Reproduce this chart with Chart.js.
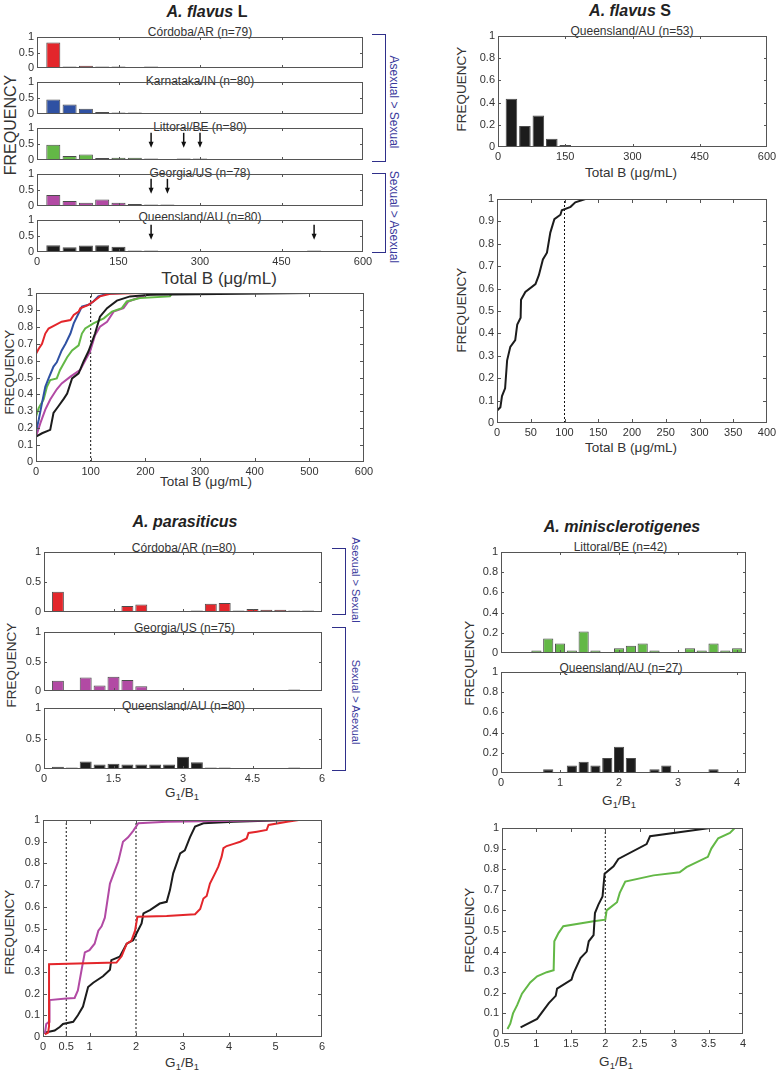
<!DOCTYPE html>
<html><head><meta charset="utf-8">
<script src="https://cdn.jsdelivr.net/npm/chart.js@4"></script>
<style>
body{margin:0;background:#fff;width:781px;height:1075px;position:relative;overflow:hidden;font-family:'Liberation Sans',Arial,Helvetica,sans-serif;color:#222}
canvas{position:absolute}
.t{position:absolute;white-space:nowrap;transform:translate(-50%,-50%);line-height:1}
.v{transform:translate(-50%,-50%) rotate(-90deg)}
.vr{transform:translate(-50%,-50%) rotate(90deg);color:#3a3a9c}
.ttl{font-size:16px;font-weight:bold}
.sub{font-size:12px;color:#333}
.ax{font-size:13.5px;color:#333}
.br{position:absolute;border:1.5px solid #2f2f8a;border-left:none}
sub{font-size:70%;vertical-align:-0.25em;line-height:0}
</style></head><body>

<!-- titles & labels -->
<div class="t ttl" style="left:207px;top:12px"><i>A. flavus</i> L</div>
<div class="t sub" style="left:200px;top:32px">Córdoba/AR (n=79)</div>
<div class="t sub" style="left:200px;top:81px">Karnataka/IN (n=80)</div>
<div class="t sub" style="left:200px;top:127px">Littoral/BE (n=80)</div>
<div class="t sub" style="left:200px;top:173px">Georgia/US (n=78)</div>
<div class="t sub" style="left:200px;top:217px">Queensland/AU (n=80)</div>
<div class="t v" style="left:10.5px;top:125px;font-size:16px;color:#333">FREQUENCY</div>
<div class="t" style="left:219px;top:278px;font-size:17px;color:#333">Total B (μg/mL)</div>
<div class="br" style="left:372px;top:34px;width:13px;height:126px"></div>
<div class="br" style="left:372px;top:173px;width:13px;height:78px"></div>
<div class="t vr" style="left:394px;top:102px;font-size:12px">Asexual &gt; Sexual</div>
<div class="t vr" style="left:394px;top:217px;font-size:12px">Sexual &gt; Asexual</div>
<div class="t v ax" style="left:9.5px;top:372px">FREQUENCY</div>
<div class="t ax" style="left:206px;top:482px">Total B (μg/mL)</div>

<div class="t ttl" style="left:630px;top:11px"><i>A. flavus</i> S</div>
<div class="t sub" style="left:632px;top:31px">Queensland/AU (n=53)</div>
<div class="t v ax" style="left:462px;top:89px">FREQUENCY</div>
<div class="t ax" style="left:631px;top:173px">Total B (μg/mL)</div>
<div class="t v ax" style="left:462px;top:310px">FREQUENCY</div>
<div class="t ax" style="left:631px;top:448px">Total B (μg/mL)</div>

<div class="t ttl" style="left:185px;top:522px"><i>A. parasiticus</i></div>
<div class="t sub" style="left:184px;top:547.5px">Córdoba/AR (n=80)</div>
<div class="t sub" style="left:184.5px;top:627.5px">Georgia/US (n=75)</div>
<div class="t sub" style="left:183.5px;top:705.5px">Queensland/AU (n=80)</div>
<div class="t v ax" style="left:11.5px;top:665px">FREQUENCY</div>
<div class="t ax" style="left:182px;top:793px">G<sub>1</sub>/B<sub>1</sub></div>
<div class="br" style="left:332px;top:548px;width:13px;height:65px"></div>
<div class="br" style="left:332px;top:627px;width:13px;height:142px"></div>
<div class="t vr" style="left:355px;top:580px;font-size:11px">Asexual &gt; Sexual</div>
<div class="t vr" style="left:355px;top:702px;font-size:11px">Sexual &gt; Asexual</div>
<div class="t v ax" style="left:10px;top:932px">FREQUENCY</div>
<div class="t ax" style="left:182px;top:1063px">G<sub>1</sub>/B<sub>1</sub></div>

<div class="t ttl" style="left:622px;top:527px"><i>A. minisclerotigenes</i></div>
<div class="t sub" style="left:620.5px;top:547px">Littoral/BE (n=42)</div>
<div class="t sub" style="left:621px;top:667.5px">Queensland/AU (n=27)</div>
<div class="t v ax" style="left:470px;top:663px">FREQUENCY</div>
<div class="t ax" style="left:619px;top:801px">G<sub>1</sub>/B<sub>1</sub></div>
<div class="t v ax" style="left:470px;top:930px">FREQUENCY</div>
<div class="t ax" style="left:616px;top:1062px">G<sub>1</sub>/B<sub>1</sub></div>

<script>
// ---------- DATA ----------
// A. flavus L / S histograms (Total B, µg/mL) — bin centres and frequencies
const flavusBins = [30,60,90,120,150,180,210,240,270,300,330,360,390,420,450,480,510,540,570];
const lCordoba   = [0.82,0.025,0.076,0.051,0.013,0,0.013,0,0,0,0,0,0,0,0,0,0,0,0];
const lKarnataka = [0.45,0.30,0.163,0.063,0.0125,0.0125,0,0,0,0,0,0,0,0,0,0,0,0,0];
const lLittoral  = [0.475,0.125,0.175,0.063,0.07,0.07,0.0125,0,0.0125,0.0125,0,0,0,0,0,0,0,0,0];
const lGeorgia   = [0.346,0.154,0.103,0.205,0.103,0.064,0.0128,0.0128,0,0,0,0,0,0,0,0,0,0,0];
const lQueensland= [0.2125,0.15,0.2,0.2125,0.1625,0.0375,0.0125,0,0,0,0,0,0,0,0,0,0.0125,0,0];
const sQueensland= [0.434,0.189,0.283,0.075,0.019,0,0,0,0,0,0,0,0,0,0,0,0,0,0];
const lLittoralArrows = [210,270,300];
const lGeorgiaArrows = [210,240];
const lQueenslandArrows = [210,510];

// A. parasiticus histograms (G1/B1)
const parasBins = [0.3,0.6,0.9,1.2,1.5,1.8,2.1,2.4,2.7,3.0,3.3,3.6,3.9,4.2,4.5,4.8,5.1,5.4,5.7];
const pCordoba   = [0.3375,0,0,0,0,0.1,0.125,0,0,0,0.025,0.1375,0.15,0.0125,0.05,0.0375,0.0375,0.0125,0.0125];
const pGeorgia   = [0.173,0,0.227,0.093,0.24,0.187,0.08,0,0,0,0,0,0,0,0,0,0,0.0133,0];
const pQueensland= [0.0375,0.025,0.125,0.075,0.0875,0.075,0.075,0.075,0.075,0.2,0.1125,0.0125,0.0125,0,0,0,0,0.0125,0];

// A. minisclerotigenes histograms (G1/B1)
const miniBins = [0.6,0.8,1.0,1.2,1.4,1.6,1.8,2.0,2.2,2.4,2.6,2.8,3.0,3.2,3.4,3.6,3.8,4.0];
const mLittoral  = [0.024,0.143,0.095,0.024,0.214,0.024,0,0.048,0.071,0.095,0.024,0,0,0.048,0.024,0.095,0.024,0.048];
const mQueensland= [0,0.037,0,0.074,0.111,0.074,0.148,0.259,0.148,0,0.037,0.074,0,0,0,0.037,0,0];

// Cumulative curves — A. flavus L
const cdfLCordobaX = [0,0,5,11,17,23,35,47,63,69,78,81,96,105,117,136,193];
const cdfLCordobaY = [0.0,0.64,0.67,0.70,0.76,0.79,0.81,0.83,0.84,0.87,0.89,0.91,0.93,0.95,0.98,0.995,1.0];
const cdfLKarnatakaX = [0,5,11,17,23,32,38,47,54,63,69,78,84,96,105,114,130,160];
const cdfLKarnatakaY = [0.18,0.25,0.35,0.445,0.495,0.565,0.59,0.66,0.70,0.76,0.82,0.88,0.92,0.93,0.95,0.98,0.995,1.0];
const cdfLLittoralX = [0,5,14,20,26,38,44,57,66,78,84,90,105,124,139,157,166,190,245,248,294];
const cdfLLittoralY = [0.27,0.32,0.37,0.445,0.485,0.495,0.545,0.62,0.66,0.69,0.76,0.79,0.82,0.85,0.89,0.91,0.95,0.97,0.98,0.995,1.0];
const cdfLGeorgiaX = [0,8,17,26,38,47,63,81,90,99,108,117,130,142,160,169,190,203,245];
const cdfLGeorgiaY = [0.15,0.23,0.31,0.37,0.43,0.465,0.505,0.545,0.60,0.655,0.75,0.80,0.83,0.89,0.91,0.95,0.975,0.99,1.0];
const cdfLQueenslandX = [0,0,11,26,32,41,51,57,66,78,87,96,108,117,130,148,172,209,501];
const cdfLQueenslandY = [0.0,0.15,0.17,0.19,0.29,0.33,0.375,0.405,0.495,0.525,0.595,0.655,0.76,0.86,0.91,0.955,0.98,0.99,1.0];
// A. flavus S
const cdfSQueenslandX = [0,0,5,7.4,12,15,19.7,27,30,35,35.6,42,57,62,68,74,79,85,94,96,109,116,131];
const cdfSQueenslandY = [0.02,0.055,0.07,0.12,0.155,0.28,0.34,0.37,0.44,0.47,0.55,0.585,0.62,0.66,0.73,0.76,0.85,0.91,0.93,0.95,0.965,0.985,1.0];
// A. parasiticus
const cdfPCordobaX = [0.04,0.11,0.13,0.13,1.58,1.69,1.8,1.9,1.98,2.03,2.66,3.27,3.38,3.45,3.52,3.59,3.7,3.77,3.84,3.88,3.95,4.1,4.24,4.38,4.42,4.6,4.81,4.85,5.25,5.5];
const cdfPCordobaY = [0.0125,0.02,0.05,0.335,0.343,0.372,0.43,0.443,0.49,0.554,0.558,0.566,0.59,0.638,0.65,0.707,0.754,0.785,0.83,0.87,0.88,0.89,0.9,0.915,0.94,0.946,0.954,0.977,0.992,1.0];
const cdfPGeorgiaX = [0.04,0.07,0.13,0.14,0.5,0.68,0.75,0.83,0.9,1.0,1.11,1.19,1.26,1.33,1.44,1.55,1.62,1.72,1.83,1.94,2.05,2.66,5.32];
const cdfPGeorgiaY = [0.015,0.06,0.07,0.17,0.177,0.18,0.215,0.31,0.39,0.4,0.43,0.49,0.51,0.55,0.707,0.77,0.81,0.9,0.92,0.95,0.985,0.992,1.0];
const cdfPQueenslandX = [0,0.25,0.36,0.43,0.65,0.75,0.86,0.97,1.08,1.29,1.44,1.47,1.65,1.8,1.94,2.01,2.12,2.16,2.3,2.51,2.66,2.73,2.8,2.95,3.05,3.16,3.27,3.45,4.1,5.32];
const cdfPQueenslandY = [0.018,0.03,0.046,0.06,0.07,0.1,0.14,0.23,0.25,0.28,0.31,0.354,0.37,0.43,0.446,0.477,0.523,0.57,0.585,0.615,0.623,0.677,0.754,0.846,0.86,0.92,0.97,0.985,0.992,1.0];
// A. minisclerotigenes
const cdfMLittoralX = [0.58,0.62,0.66,0.72,0.79,0.91,1.01,1.15,1.25,1.26,1.32,1.39,1.83,2.0,2.02,2.17,2.21,2.29,2.7,3.08,3.18,3.49,3.54,3.64,3.81,3.88];
const cdfMLittoralY = [0.024,0.05,0.1,0.14,0.196,0.25,0.28,0.3,0.31,0.45,0.49,0.523,0.547,0.555,0.6,0.64,0.685,0.74,0.77,0.785,0.81,0.86,0.9,0.95,0.976,1.0];
const cdfMQueenslandX = [0.77,1.01,1.18,1.28,1.3,1.51,1.54,1.64,1.73,1.76,1.83,1.85,1.9,1.96,1.99,2.12,2.19,2.6,2.65,3.52];
const cdfMQueenslandY = [0.032,0.073,0.15,0.185,0.22,0.264,0.296,0.369,0.4,0.45,0.48,0.587,0.628,0.668,0.778,0.814,0.85,0.922,0.96,1.0];

// reference (dotted) lines
const flavusRef = [100];
const parasRef = [0.5,2];
const miniRef = [2];

// tick labels
const ticksTotalB = [0,150,300,450,600];
const ticksTotalBCdf = [0,100,200,300,400,500,600];
const ticksTotalBS = [0,50,100,150,200,250,300,350,400];
const ticksParas = [0,1.5,3,4.5,6];
const ticksParasCdf = [0,0.5,1,2,3,4,5,6];
const ticksMini = [0,1,2,3,4];
const ticksMiniCdf = [0.5,1,1.5,2,2.5,3,3.5,4];
const ticksY3 = [0,0.5,1];
const ticksY6 = [0,0.2,0.4,0.6,0.8,1];
const ticksY11 = [0,0.1,0.2,0.3,0.4,0.5,0.6,0.7,0.8,0.9,1];

// ---------- RENDER ----------
const RED='#e3262b', BLUE='#2f51a3', GREEN='#63b846', MAG='#b24aa4', BLK='#1c1c1c';
Chart.defaults.font.family="'Liberation Sans', Arial, Helvetica, sans-serif";
Chart.defaults.font.size=11;
Chart.defaults.color='#333';
const ML=40, MR=24, MT=10, MB=24;

const boxPlugin={
  id:'mbox',
  afterDatasetsDraw(chart,args,opts){
    const {ctx,chartArea:a,scales:{x,y}}=chart;
    const L=opts.len||3;
    ctx.save();
    ctx.strokeStyle='#555';ctx.lineWidth=1;
    ctx.strokeRect(Math.round(a.left)+0.5,Math.round(a.top)+0.5,Math.round(a.right-a.left)-1,Math.round(a.bottom-a.top)-1);
    ctx.beginPath();
    x.ticks.forEach(t=>{const p=Math.round(x.getPixelForValue(t.value))+0.5;if(p<=a.left+2||p>=a.right-2)return;
      ctx.moveTo(p,a.bottom);ctx.lineTo(p,a.bottom-L);ctx.moveTo(p,a.top);ctx.lineTo(p,a.top+L);});
    y.ticks.forEach(t=>{const p=Math.round(y.getPixelForValue(t.value))+0.5;if(p<=a.top+2||p>=a.bottom-2)return;
      ctx.moveTo(a.left,p);ctx.lineTo(a.left+L,p);ctx.moveTo(a.right,p);ctx.lineTo(a.right-L,p);});
    ctx.stroke();
    (opts.arrows||[]).forEach(v=>{
      const px=x.getPixelForValue(v), y0=y.getPixelForValue(0.85), y1=y.getPixelForValue(0.38);
      ctx.strokeStyle='#111';ctx.fillStyle='#111';ctx.lineWidth=1.5;
      ctx.beginPath();ctx.moveTo(px,y0);ctx.lineTo(px,y1-4);ctx.stroke();
      ctx.beginPath();ctx.moveTo(px-2.5,y1-6);ctx.lineTo(px+2.5,y1-6);ctx.lineTo(px,y1);ctx.closePath();ctx.fill();
    });
    ctx.restore();
  }
};

function place(x0,y0,x1,y1){
  const c=document.createElement('canvas');
  const w=(x1-x0)+ML+MR, h=(y1-y0)+MT+MB;
  c.width=w;c.height=h;
  c.style.left=(x0-ML)+'px';c.style.top=(y0-MT)+'px';c.style.width=w+'px';c.style.height=h+'px';
  document.body.appendChild(c);return c;
}
function scales(xr,xt,yt,showX){
  return {
    x:{type:'linear',min:xr[0],max:xr[1],offset:false,grid:{display:false,drawTicks:false,offset:false},border:{display:false},
      afterBuildTicks:s=>{s.ticks=xt.map(v=>({value:v}));},afterFit:s=>{s.height=MB;},
      ticks:{display:showX,padding:3,autoSkip:false,maxRotation:0,callback:v=>String(v)}},
    y:{type:'linear',min:0,max:1,grid:{display:false,drawTicks:false},border:{display:false},
      afterBuildTicks:s=>{s.ticks=yt.map(v=>({value:v}));},afterFit:s=>{s.width=ML;},
      ticks:{padding:3,autoSkip:false,callback:v=>String(v)}}
  };
}
function common(sc,len,arrows){
  return {responsive:false,animation:false,devicePixelRatio:1,events:[],
    layout:{padding:{top:MT,right:MR,left:0,bottom:0}},scales:sc,
    plugins:{legend:{display:false},tooltip:{enabled:false},mbox:{len:len,arrows:arrows||[]}}};
}
function hist(rect,bins,vals,color,xr,xt,yt,showX,arrows){
  const c=place(...rect);
  new Chart(c,{type:'bar',
    data:{datasets:[{data:bins.map((b,i)=>({x:b,y:vals[i]===0?null:vals[i]})),
      backgroundColor:color,borderColor:'rgba(45,45,45,0.85)',borderWidth:1,borderSkipped:false,
      categoryPercentage:1,barPercentage:0.86,minBarLength:1.5}]},
    options:common(scales(xr,xt,yt,showX),3,arrows),plugins:[boxPlugin]});
}
function cdf(rect,series,refs,xr,xt){
  const c=place(...rect);
  const ds=series.map(s=>({data:s[0].map((v,i)=>({x:v,y:s[1][i]})),borderColor:s[2],borderWidth:2,
    showLine:true,pointRadius:0,fill:false,tension:0}));
  refs.forEach(r=>ds.push({data:[{x:r,y:0},{x:r,y:1}],borderColor:'#111',borderWidth:1,borderDash:[2,2],
    showLine:true,pointRadius:0,fill:false}));
  new Chart(c,{type:'scatter',data:{datasets:ds},options:common(scales(xr,xt,ticksY11,true),4),plugins:[boxPlugin]});
}

// A. flavus L
const fx=[0,600];
hist([37,37,363,68],flavusBins,lCordoba,RED,fx,ticksTotalB,ticksY3,false);
hist([37,82,363,114],flavusBins,lKarnataka,BLUE,fx,ticksTotalB,ticksY3,false);
hist([37,128,363,160],flavusBins,lLittoral,GREEN,fx,ticksTotalB,ticksY3,false,lLittoralArrows);
hist([37,174,363,206],flavusBins,lGeorgia,MAG,fx,ticksTotalB,ticksY3,false,lGeorgiaArrows);
hist([37,220,363,252],flavusBins,lQueensland,BLK,fx,ticksTotalB,ticksY3,true,lQueenslandArrows);
cdf([36,293,364,462],[
  [cdfLCordobaX,cdfLCordobaY,RED],[cdfLKarnatakaX,cdfLKarnatakaY,BLUE],[cdfLQueenslandX,cdfLQueenslandY,BLK],
  [cdfLLittoralX,cdfLLittoralY,GREEN],[cdfLGeorgiaX,cdfLGeorgiaY,MAG]],flavusRef,[0,600],ticksTotalBCdf);

// A. flavus S
hist([498,36,767,147],flavusBins,sQueensland,BLK,fx,ticksTotalB,ticksY6,true);
cdf([497,199,767,423],[[cdfSQueenslandX,cdfSQueenslandY,BLK]],flavusRef,[0,400],ticksTotalBS);

// A. parasiticus
const px=[0,6];
hist([44,552,322,612],parasBins,pCordoba,RED,px,ticksParas,ticksY3,false);
hist([44,632,322,691],parasBins,pGeorgia,MAG,px,ticksParas,ticksY3,false);
hist([44,708,322,769],parasBins,pQueensland,BLK,px,ticksParas,ticksY3,true);
cdf([43,820,322,1037],[[cdfPCordobaX,cdfPCordobaY,RED],[cdfPGeorgiaX,cdfPGeorgiaY,MAG],[cdfPQueenslandX,cdfPQueenslandY,BLK]],
  parasRef,[0,6],ticksParasCdf);

// A. minisclerotigenes
const mx=[0,4.15];
hist([501,552,746,653],miniBins,mLittoral,GREEN,mx,ticksMini,ticksY6,false);
hist([501,672,746,773],miniBins,mQueensland,BLK,mx,ticksMini,ticksY6,true);
cdf([502,828,743,1034],[[cdfMQueenslandX,cdfMQueenslandY,BLK],[cdfMLittoralX,cdfMLittoralY,GREEN]],miniRef,[0.5,4],ticksMiniCdf);
</script>
</body></html>
